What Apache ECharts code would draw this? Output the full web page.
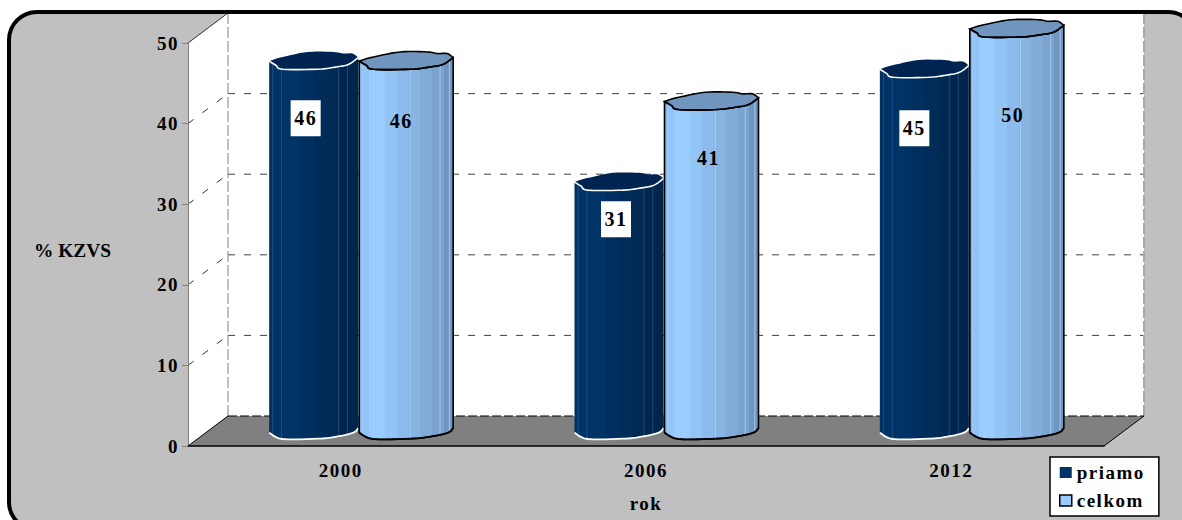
<!DOCTYPE html>
<html>
<head>
<meta charset="utf-8">
<style>
  html, body { margin: 0; padding: 0; background: #fff; }
  #chart { width: 1182px; height: 520px; overflow: hidden; }
  svg text { letter-spacing: 1.5px; }
  /* the vertical axis title is set tighter than the other labels */
  svg text[style*="19.4px"] { letter-spacing: 0; }
</style>
<script src="https://cdn.jsdelivr.net/npm/echarts@6/dist/echarts.min.js"></script>
</head>
<body>
<div id="chart"></div>
<script>
// Survey results by year
const years = ['2000', '2006', '2012'];
const priamo = [46, 31, 45];
const celkom = [46, 41, 50];
const yTicks = [0, 10, 20, 30, 40, 50];

// Label placement relative to each cylinder's top centre (pixels)
const priamoLabelNudge = [[-8, 58], [-3, 38], [-10, 60]];
const celkomLabelNudge = [[-5, 61], [-3, 57], [-4, 87]];

// Pseudo-3D box depth
const DEPTH_X = 40;
const DEPTH_Y = -30;
const FONT = '"Liberation Serif", "Times New Roman", serif';

// Rim outlines: x as a fraction of the half width, y in pixels from the rim centre
const TOP_BACK = [[-1, 1], [-.85, -1.5], [-.62, -4], [-.13, -8.3], [.45, -8.3], [.66, -6.7], [.87, -6.7], [1, -2.7]];
const TOP_FRONT = [[-1, 1], [-.85, 5], [-.7, 9], [.09, 9], [.51, 6.7], [.79, 4], [1, -2.7]];
const BOTTOM = [[-1, 1.7], [-.7, 8], [.09, 7.7], [.51, 5.7], [.89, 1.7], [1, -3]];

function spline(pts) {
  const out = [];
  for (let i = 0; i < pts.length - 1; i++) {
    const p0 = pts[Math.max(i - 1, 0)], p1 = pts[i], p2 = pts[i + 1], p3 = pts[Math.min(i + 2, pts.length - 1)];
    for (let k = 0; k < 6; k++) {
      const t = k / 6, t2 = t * t, t3 = t2 * t;
      out.push([0, 1].map(d => 0.5 * (2 * p1[d] + (p2[d] - p0[d]) * t +
        (2 * p0[d] - 5 * p1[d] + 4 * p2[d] - p3[d]) * t2 +
        (3 * p1[d] - p0[d] - 3 * p2[d] + p3[d]) * t3)));
    }
  }
  out.push(pts[pts.length - 1]);
  return out;
}

function rimY(profile, frac) {
  for (let i = 0; i < profile.length - 1; i++) {
    const a = profile[i], b = profile[i + 1];
    if (frac >= a[0] && frac <= b[0]) return a[1] + (b[1] - a[1]) * (frac - a[0]) / (b[0] - a[0]);
  }
  return 0;
}

function bands(list) {
  const stops = [];
  list.forEach(([end, color], i) => {
    const start = i ? list[i - 1][0] : 0;
    stops.push({ offset: start, color }, { offset: end, color });
  });
  return { type: 'linear', x: 0, y: 0, x2: 1, y2: 0, colorStops: stops };
}

const LOOK = {
  priamo: {
    offset: -47, half: 44.5,
    body: bands([[.03, '#003060'], [.35, '#003366'], [.5, '#002f60'], [.65, '#002c5a'], [.8, '#002a54'], [1, '#00264d']]),
    cap: '#002452', rim: '#ffffff', sideStroke: null, streak: '#2a5585',
    streaks: [-.92, -.72, .56, .76], nudge: priamoLabelNudge, labelBox: true
  },
  celkom: {
    offset: 45.5, half: 47,
    body: bands([[.03, '#80b4e8'], [.1, '#92c4f8'], [.27, '#99ccff'], [.4, '#92c4f5'], [.52, '#8ebbee'], [.65, '#88b4e2'], [.78, '#82acd8'], [.9, '#7aa3cf'], [1, '#7096bf']]),
    cap: '#7096bf', rim: '#000000', sideStroke: '#000000', streak: '#b0d4f8',
    streaks: [-.94, -.7, .08, .72, .92], nudge: celkomLabelNudge, labelBox: false
  }
};

function cylinder(look) {
  return function (params, api) {
    const cat = api.value(0), val = api.value(1);
    const top = api.coord([cat, val]);
    const cx = top[0] + DEPTH_X / 2 + look.offset;
    const ty = top[1] + DEPTH_Y / 2;
    const by = api.coord([cat, 0])[1] + DEPTH_Y / 2;
    const place = (profile, y0) => spline(profile).map(p => [cx + p[0] * look.half, y0 + p[1]]);
    const front = place(TOP_FRONT, ty);
    const back = place(TOP_BACK, ty);
    const bottom = place(BOTTOM, by);
    const wall = bottom.concat(front.slice().reverse());
    const children = [{
      type: 'polygon', shape: { points: wall },
      style: { fill: look.body, stroke: look.sideStroke, lineWidth: 1.6 }
    }];
    look.streaks.forEach(f => {
      const x = cx + f * look.half;
      children.push({
        type: 'line',
        shape: { x1: x, y1: ty + rimY(TOP_FRONT, f), x2: x, y2: by + rimY(BOTTOM, f) },
        style: { stroke: look.streak, lineWidth: 1, opacity: .75 }
      });
    });
    children.push({
      type: 'polygon', shape: { points: back.concat(front.slice().reverse()) },
      style: { fill: look.cap, stroke: look.sideStroke, lineWidth: 1.6 }
    });
    children.push(
      { type: 'polyline', shape: { points: front }, style: { fill: null, stroke: look.rim, lineWidth: 1.6 } },
      { type: 'polyline', shape: { points: bottom }, style: { fill: null, stroke: look.rim, lineWidth: 1.8 } }
    );
    const nudge = look.nudge[cat];
    const lx = cx + nudge[0], ly = ty + nudge[1];
    if (look.labelBox) {
      children.push({
        type: 'rect', shape: { x: lx - 15, y: ly - 18, width: 30, height: 36 }, style: { fill: '#ffffff' }
      });
    }
    children.push({
      type: 'text',
      style: {
        text: String(val), x: lx, y: ly, align: 'center', verticalAlign: 'middle',
        fontFamily: FONT, fontSize: 20, fontWeight: 'bold', fill: '#000000'
      }
    });
    return { type: 'group', children };
  };
}

// White walls, grey floor and the dashed gridlines of the box
function box(params, api) {
  const sys = params.coordSys;
  const left = sys.x, right = sys.x + sys.width;
  const y0 = api.coord([0, 0])[1], y50 = api.coord([0, 50])[1];
  const backL = left + DEPTH_X, backR = right + DEPTH_X;
  const children = [
    { type: 'polygon', shape: { points: [[left, y0], [left, y50], [backL, y50 + DEPTH_Y], [backR, y50 + DEPTH_Y], [backR, y0 + DEPTH_Y], [backL, y0 + DEPTH_Y]] }, style: { fill: '#ffffff' } },
    { type: 'polygon', shape: { points: [[left, y0], [backL, y0 + DEPTH_Y], [backR, y0 + DEPTH_Y], [right, y0]] }, style: { fill: '#808080' } }
  ];
  yTicks.forEach(t => {
    const y = api.coord([0, t])[1];
    if (t > 0 && t < 50) {
      children.push({ type: 'line', shape: { x1: backL, y1: y + DEPTH_Y, x2: backR, y2: y + DEPTH_Y }, style: { stroke: '#404040', lineWidth: 1, lineDash: [7, 9] } });
    }
    if (t > 0) {
      children.push({ type: 'line', shape: { x1: left, y1: y, x2: backL, y2: y + DEPTH_Y }, style: { stroke: '#303030', lineWidth: 1, lineDash: t === 50 ? null : [7, 11] } });
    }
  });
  children.push(
    { type: 'line', shape: { x1: backL, y1: y50 + DEPTH_Y, x2: backL, y2: y0 + DEPTH_Y }, style: { stroke: '#808080', lineWidth: 1, lineDash: [11, 3] } },
    { type: 'line', shape: { x1: backR, y1: y50 + DEPTH_Y, x2: backR, y2: y0 + DEPTH_Y }, style: { stroke: '#a8a8a8', lineWidth: 2, lineDash: [11, 3] } },
    { type: 'line', shape: { x1: backL, y1: y0 + DEPTH_Y, x2: backR, y2: y0 + DEPTH_Y }, style: { stroke: '#000000', lineWidth: 1, lineDash: [9, 3] } },
    { type: 'line', shape: { x1: right, y1: y0, x2: backR, y2: y0 + DEPTH_Y }, style: { stroke: '#000000', lineWidth: 1 } },
    { type: 'line', shape: { x1: left, y1: y0, x2: backL, y2: y0 + DEPTH_Y }, style: { stroke: '#000000', lineWidth: 1 } }
  );
  return { type: 'group', children };
}

const textStyle = { fontFamily: FONT, fontSize: 19, fontWeight: 'bold', color: '#000000' };
const chart = echarts.init(document.getElementById('chart'), null, { renderer: 'svg' });

chart.setOption({
  animation: false,
  backgroundColor: '#ffffff',
  grid: { left: 188, top: 43, width: 916, height: 403, outerBoundsMode: 'none' },
  xAxis: {
    type: 'category', data: years, z: 3,
    axisLine: { lineStyle: { color: '#000000', width: 1.5 } },
    axisTick: { length: 6, lineStyle: { color: '#000000', width: 1 } },
    axisLabel: Object.assign({ margin: 15 }, textStyle),
    name: 'rok', nameLocation: 'middle', nameGap: 48, nameTextStyle: textStyle
  },
  yAxis: {
    type: 'value', min: 0, max: 50, interval: 10, z: 3,
    splitLine: { show: false },
    axisLine: { show: true, lineStyle: { color: '#808080', width: 1 } },
    axisTick: { show: true, length: 6, lineStyle: { color: '#808080', width: 1 } },
    axisLabel: Object.assign({ margin: 9 }, textStyle),
    name: '% KZVS', nameLocation: 'middle', nameRotate: 0, nameGap: 77,
    nameTextStyle: Object.assign({}, textStyle, { fontSize: 19.4, verticalAlign: 'top', lineHeight: 11 })
  },
  legend: {
    left: 1050, top: 457, orient: 'vertical', selectedMode: false, z: 6,
    icon: 'rect', itemWidth: 12, itemHeight: 11, itemGap: 9,
    padding: [6, 23, 6, 9],
    backgroundColor: '#ffffff', borderColor: '#000000', borderWidth: 1.5, borderRadius: 0,
    textStyle,
    data: [
      { name: 'priamo', itemStyle: { color: '#003366', borderWidth: 0 } },
      { name: 'celkom', itemStyle: { color: '#99ccff', borderColor: '#000000', borderWidth: 1.5 } }
    ]
  },
  graphic: {
    elements: [
      { type: 'rect', z: -10, silent: true, shape: { x: 9, y: 12, width: 1187, height: 518, r: 28 }, style: { fill: '#c0c0c0' } },
      { type: 'rect', z: 20, silent: true, shape: { x: 9, y: 12, width: 1187, height: 518, r: 28 }, style: { fill: null, stroke: '#000000', lineWidth: 4 } }
    ]
  },
  series: [
    { type: 'custom', name: 'box', z: 1, renderItem: box, data: [[0, 0]], encode: { x: 0, y: 1 }, silent: true },
    { type: 'custom', name: 'priamo', z: 4, renderItem: cylinder(LOOK.priamo), itemStyle: { color: '#003366' }, encode: { x: 0, y: 1 }, data: priamo.map((v, i) => [i, v]) },
    { type: 'custom', name: 'celkom', z: 5, renderItem: cylinder(LOOK.celkom), itemStyle: { color: '#99ccff' }, encode: { x: 0, y: 1 }, data: celkom.map((v, i) => [i, v]) }
  ]
});
</script>
</body>
</html>
